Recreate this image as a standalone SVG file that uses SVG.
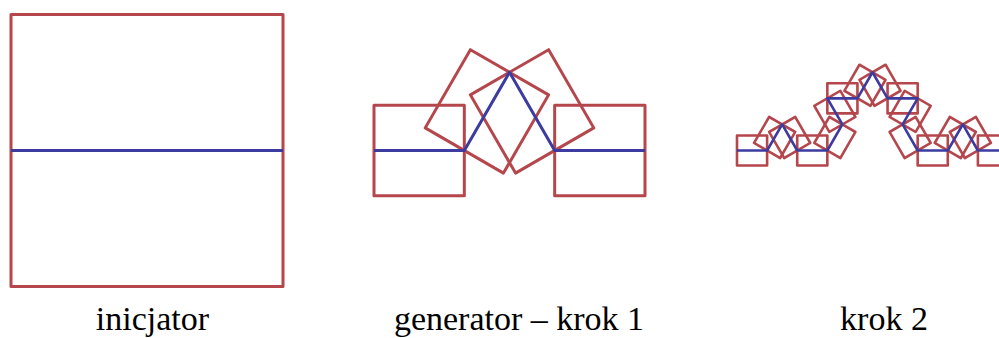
<svg xmlns="http://www.w3.org/2000/svg" width="999" height="338" viewBox="0 0 999 338">
<style>
.sq{fill:none;stroke:#b5474c;stroke-width:3;stroke-linejoin:round}
.sq2{fill:none;stroke:#b5474c;stroke-width:2.6;stroke-linejoin:round}
.cv{fill:none;stroke:#3b3ba0;stroke-width:3;stroke-linejoin:round}
.cv2{fill:none;stroke:#3b3ba0;stroke-width:2.6;stroke-linejoin:round}
.lbl{font-family:"Liberation Serif","Times New Roman",serif;font-size:34px;fill:#000;text-anchor:middle}
</style>
<defs>
<rect id="s1" x="0" y="-45.17" width="90.33" height="90.33" class="sq"/>
<rect id="s2" x="0" y="-15.06" width="30.11" height="30.11" class="sq2"/>
</defs>
<rect width="999" height="338" fill="#fff"/>
<g id="inicjator">
<rect x="11" y="14.5" width="272" height="272" class="sq"/>
<line x1="11" y1="150.5" x2="283" y2="150.5" class="cv"/>
<text x="152.5" y="329.5" class="lbl">inicjator</text>
</g>
<g id="generator">
<use href="#s1" transform="translate(374,150.5)"/>
<use href="#s1" transform="translate(464.33,150.5) rotate(-60)"/>
<use href="#s1" transform="translate(509.5,72.27) rotate(60)"/>
<use href="#s1" transform="translate(554.67,150.5)"/>
<polyline class="cv" points="374,150.5 464.33,150.5 509.5,72.27 554.67,150.5 645,150.5"/>
<text x="519" y="329.5" class="lbl">generator – krok 1</text>
</g>
<g id="krok2">
<use href="#s2" transform="translate(737,150.5)"/>
<use href="#s2" transform="translate(767.11,150.5) rotate(-60)"/>
<use href="#s2" transform="translate(782.17,124.42) rotate(60)"/>
<use href="#s2" transform="translate(797.22,150.5)"/>
<use href="#s2" transform="translate(827.33,150.5) rotate(-60)"/>
<use href="#s2" transform="translate(842.39,124.42) rotate(-120)"/>
<use href="#s2" transform="translate(827.33,98.35)"/>
<use href="#s2" transform="translate(857.44,98.35) rotate(-60)"/>
<use href="#s2" transform="translate(872.5,72.27) rotate(60)"/>
<use href="#s2" transform="translate(887.56,98.35)"/>
<use href="#s2" transform="translate(917.67,98.35) rotate(120)"/>
<use href="#s2" transform="translate(902.61,124.42) rotate(60)"/>
<use href="#s2" transform="translate(917.67,150.5)"/>
<use href="#s2" transform="translate(947.78,150.5) rotate(-60)"/>
<use href="#s2" transform="translate(962.83,124.42) rotate(60)"/>
<use href="#s2" transform="translate(977.89,150.5)"/>
<polyline class="cv2" points="737,150.5 767.11,150.5 782.17,124.42 797.22,150.5 827.33,150.5 842.39,124.42 827.33,98.35 857.44,98.35 872.5,72.27 887.56,98.35 917.67,98.35 902.61,124.42 917.67,150.5 947.78,150.5 962.83,124.42 977.89,150.5 1008,150.5"/>
<text x="884" y="329.5" class="lbl">krok 2</text>
</g>
</svg>
